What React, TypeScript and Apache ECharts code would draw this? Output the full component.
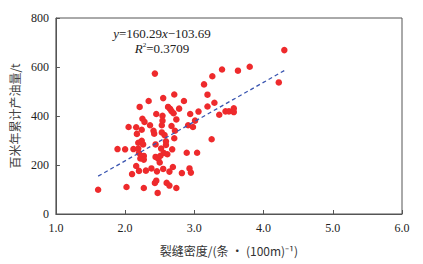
import React, { useEffect, useRef } from "react";
import * as echarts from "echarts";

const densityX = [
  1.61, 1.89, 2.0, 2.02, 2.05, 2.1, 2.12, 2.16, 2.16, 2.17, 2.19, 2.2, 2.21, 2.19, 2.2, 2.22,
  2.24, 2.24, 2.25, 2.26, 2.27, 2.28, 2.27, 2.27, 2.3, 2.34, 2.36, 2.38, 2.41, 2.42, 2.43, 2.43,
  2.45, 2.44, 2.44, 2.45, 2.46, 2.47, 2.48, 2.5, 2.51, 2.52, 2.53, 2.53, 2.54, 2.54, 2.55, 2.55,
  2.56, 2.57, 2.59, 2.59, 2.6, 2.61, 2.62, 2.64, 2.64, 2.65, 2.67, 2.67, 2.68, 2.69, 2.7, 2.71,
  2.71, 2.72, 2.74, 2.74, 2.78, 2.82, 2.85, 2.89, 2.91, 2.93, 2.94, 2.95, 2.98, 3.01, 3.04, 3.06,
  3.14, 3.19, 3.19, 3.26, 3.25, 3.29, 3.36, 3.4, 3.45, 3.5, 3.57, 3.57, 3.63, 3.8, 4.22, 4.3,
];
const outputY = [
  99, 265, 264, 110, 355, 163, 265, 354, 196, 327, 291, 176, 437, 267, 249, 227,
  344, 299, 389, 284, 237, 376, 222, 106, 177, 461, 362, 186, 340, 328, 573, 127,
  408, 284, 233, 136, 174, 86, 226, 210, 238, 267, 333, 362, 381, 401, 473, 184,
  249, 322, 282, 297, 127, 244, 437, 116, 173, 429, 359, 420, 264, 192, 411, 488,
  309, 340, 386, 106, 430, 167, 461, 250, 362, 186, 408, 169, 355, 381, 250, 418,
  529, 487, 439, 562, 305, 454, 405, 590, 419, 419, 431, 416, 585, 601, 537, 669,
];
const fitSlope = 160.29;
const fitIntercept = -103.69;
const fitRange = [1.61, 4.3];
const xTicks = { min: 1, max: 6, interval: 1 };
const yTicks = { min: 0, max: 800, interval: 200 };

export default function App() {
  const ref = useRef<HTMLDivElement>(null);
  useEffect(() => {
    document.body.style.margin = "0";
    if (!ref.current) return;
    const chart = echarts.init(ref.current, undefined, { renderer: "svg" });
    const points = densityX.map((x, i) => [x, outputY[i]]);
    const fit = fitRange.map((x) => [x, fitSlope * x + fitIntercept]);
    const serif = "Liberation Serif";
    const cjk = "Noto Sans CJK SC";
    const axisCommon = {
      axisLine: { show: true, lineStyle: { color: "#555", width: 1 } },
      axisTick: { show: true, inside: true, length: 4, lineStyle: { color: "#555" } },
      splitLine: { show: false },
    };
    chart.setOption({
      animation: false,
      grid: { left: 55, right: 21, top: 18, bottom: 50, show: true, borderColor: "#555", borderWidth: 1 },
      xAxis: {
        type: "value",
        ...xTicks,
        ...axisCommon,
        axisLabel: {
          color: "#222",
          fontSize: 12,
          fontFamily: serif,
          margin: 8,
          formatter: (v: number) => v.toFixed(1),
        },
        name: "裂缝密度/(条 · (100m)⁻¹)",
        nameLocation: "middle",
        nameGap: 30,
        nameTextStyle: { color: "#333", fontSize: 12, fontFamily: cjk },
      },
      yAxis: {
        type: "value",
        ...yTicks,
        ...axisCommon,
        axisLabel: { color: "#222", fontSize: 12, fontFamily: serif, margin: 7 },
        name: "百米年累计产油量/t",
        nameLocation: "middle",
        nameGap: 34,
        nameTextStyle: { color: "#444", fontSize: 12, fontFamily: cjk },
      },
      series: [
        {
          type: "scatter",
          data: points,
          symbolSize: 6.5,
          itemStyle: { color: "#ee2a2c", opacity: 1 },
          z: 2,
        },
        {
          type: "line",
          data: fit,
          symbol: "none",
          lineStyle: { color: "#3a55b0", width: 1.3, type: [4, 3] },
          z: 3,
        },
      ],
      graphic: [
        {
          type: "text",
          x: 162,
          y: 33,
          style: {
            text: "{i|y}{n|=160.29}{i|x}{n|−103.69}",
            align: "center",
            verticalAlign: "middle",
            rich: {
              i: { fontFamily: serif, fontStyle: "italic", fontSize: 13, fill: "#222" },
              n: { fontFamily: serif, fontSize: 13, fill: "#222" },
            },
          },
        },
        {
          type: "text",
          x: 162,
          y: 48,
          style: {
            text: "{i|R}{s|2}{n|=0.3709}",
            align: "center",
            verticalAlign: "middle",
            rich: {
              i: { fontFamily: serif, fontStyle: "italic", fontSize: 13, fill: "#222" },
              s: { fontFamily: serif, fontSize: 7, fill: "#222", verticalAlign: "top", padding: [0, 0, 6, 0] },
              n: { fontFamily: serif, fontSize: 13, fill: "#222" },
            },
          },
        },
      ],
    });
    return () => chart.dispose();
  }, []);
  return <div ref={ref} style={{ width: 423, height: 264 }} />;
}
